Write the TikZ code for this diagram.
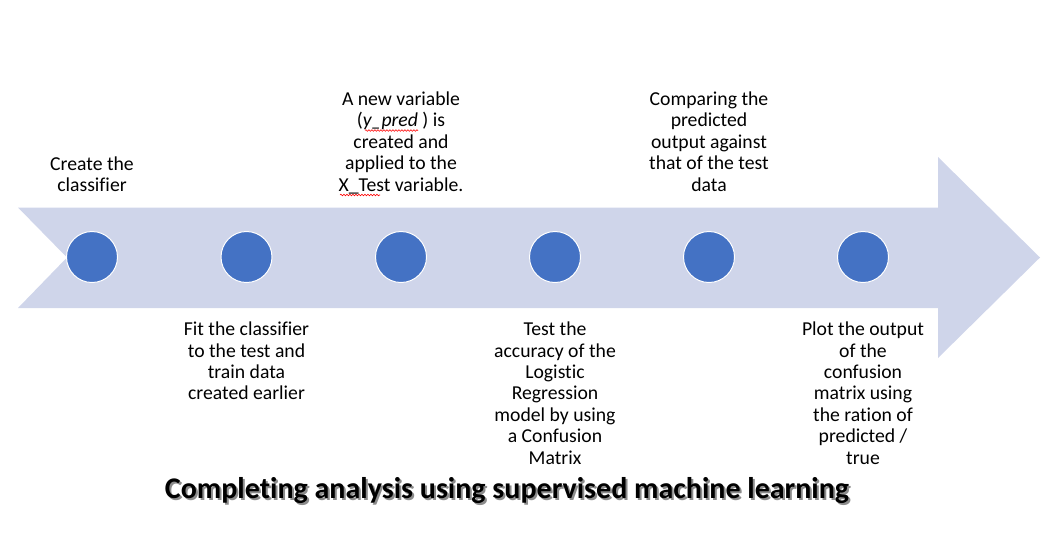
\documentclass[tikz,border=0pt]{standalone}
\usepackage{fontspec}
\setmainfont{Carlito}[Ligatures=CommonOff]
\usetikzlibrary{decorations.pathmorphing}
\definecolor{band}{HTML}{CFD5EA}
\definecolor{dot}{HTML}{4472C4}
\newcommand\stack[1]{\vtop{\lineskiplimit=-100pt\lineskip=0pt\halign{\hfil##\hfil\cr#1\crcr}}}
\begin{document}
\begin{tikzpicture}[x=1pt,y=-1pt,
  dotnode/.style={circle,fill=dot,draw=white,line width=1pt,minimum size=51pt,inner sep=0pt},
  txt/.style={anchor=base,inner sep=0pt,font=\fontsize{19.7}{21.4}\selectfont},
  ttl/.style={anchor=base,inner sep=0pt,font=\fontsize{30}{36}\selectfont\bfseries},
  wavy/.style={draw=red,line width=0.6pt,decorate,decoration={snake,amplitude=0.8pt,segment length=3pt}}]
\useasboundingbox (0,0) rectangle (1048,539);
% band arrow
\fill[band] (18,207.5) -- (938,207.5) -- (938,157) -- (1040,257.5) -- (938,358)
  -- (938,308) -- (18,308) -- (67,257.5) -- cycle;
% dots
\node[dotnode] (c1) at (92,257) {};
\node[dotnode] (c2) at (246.5,257) {};
\node[dotnode] (c3) at (401,257) {};
\node[dotnode] (c4) at (555,257) {};
\node[dotnode] (c5) at (709,257) {};
\node[dotnode] (c6) at (863,257) {};
% texts
\node[txt] (t1) at (92,170) {\stack{Create the\cr classifier}};
\node[txt] (t2) at (246.5,335.7) {\stack{Fit the classifier\cr to the test and\cr train data\cr created earlier}};
\node[txt] (t3) at (401,105.5) {\stack{A new variable\cr (\textit{y\_pred} ) is\cr created and\cr applied to the\cr X\_Test variable.}};
\node[txt] (t4) at (555,335.7) {\stack{Test the\cr accuracy of the\cr Logistic\cr Regression\cr model by using\cr a Confusion\cr Matrix}};
\node[txt] (t5) at (709,105.5) {\stack{Comparing the\cr predicted\cr output against\cr that of the test\cr data}};
\node[txt] (t6) at (863,335.7) {\stack{Plot the output\cr of the\cr confusion\cr matrix using\cr the ration of\cr predicted /\cr true}};
% spell-check marks
\draw[wavy] (365,130.5) -- (418,130.5);
\draw[wavy] (340,195) -- (380,195);
% title
\node[ttl,text=black!45] (titleshadow) at (509,500) {Completing analysis using supervised machine learning};
\node[ttl,text=black] (title) at (507,498) {Completing analysis using supervised machine learning};
\end{tikzpicture}
\end{document}
